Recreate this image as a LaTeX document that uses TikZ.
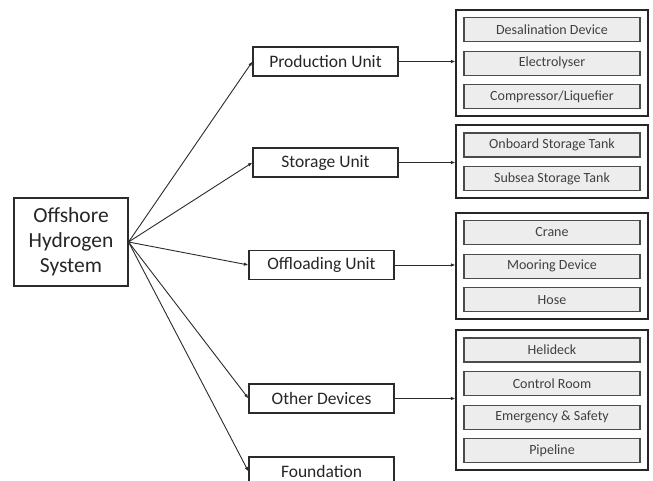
\documentclass[tikz,border=0pt]{standalone}
\usepackage{fontspec}
\setmainfont{Carlito}
\usepackage{tikz}
\usetikzlibrary{arrows.meta,positioning,fit}
\definecolor{ohLine}{HTML}{2B2B2B}
\definecolor{ohText}{HTML}{262626}
\definecolor{ohItem}{HTML}{404040}
\definecolor{ohFill}{HTML}{EDEDED}

\begin{document}
\begin{tikzpicture}[
  x=1pt, y=-1pt,
  node distance=8.5pt and 8.5pt,
  sysbox/.style={
    draw=ohLine,
    line width=1.1pt,
    fill=white,
    minimum width=114pt,
    minimum height=88pt,
    text=ohText,
    font=\fontsize{21.5}{25}\selectfont,
    align=center
  },
  unit/.style={
    draw=ohLine,
    line width=1.1pt,
    fill=white,
    minimum width=145pt,
    minimum height=29pt,
    text=ohText,
    font=\fontsize{17.5}{20}\selectfont
  },
  item/.style={
    draw=ohLine!85,
    line width=1.1pt,
    fill=ohFill,
    minimum width=176pt,
    minimum height=24pt,
    inner sep=0pt,
    text=ohItem,
    font=\fontsize{14}{16}\selectfont
  },
  group/.style={
    draw=black!85,
    line width=2pt,
    inner sep=7pt
  },
  arrow/.style={-{Latex[length=4.5pt,width=3.5pt]},line width=0.9pt,ohLine}
]
  \useasboundingbox (0,0) rectangle (653,481);

  \node[sysbox] (sys) at (71,242) {Offshore\\Hydrogen\\System};

  \node[unit] (prod) at (325.5,61.5) {Production Unit};
  \node[unit] (stor) at (325.5,162.5) {Storage Unit};
  \node[unit] (offl) at (321.5,265) {Offloading Unit};
  \node[unit] (othr) at (321.5,398.5) {Other Devices};
  \node[unit] (fond) at (321.5,471.5) {Foundation};

  % production unit parts
  \node[item] (desal) at (552,29.5) {Desalination Device};
  \node[item,below=of desal] (elec) {Electrolyser};
  \node[item,below=of elec] (comp) {Compressor/Liquefier};
  \node[group,fit=(desal)(comp)] (gprod) {};

  % storage unit parts
  \node[item] (onbd) at (552,145) {Onboard Storage Tank};
  \node[item,below=of onbd] (subs) {Subsea Storage Tank};
  \node[group,fit=(onbd)(subs)] (gstor) {};

  % offloading unit parts
  \node[item] (crane) at (552,232.5) {Crane};
  \node[item,below=of crane] (moor) {Mooring Device};
  \node[item,below=of moor] (hose) {Hose};
  \node[group,fit=(crane)(hose)] (gofl) {};

  % other devices
  \node[item] (heli) at (552,350) {Helideck};
  \node[item,below=of heli] (ctrl) {Control Room};
  \node[item,below=of ctrl] (emer) {Emergency \& Safety};
  \node[item,below=of emer] (pipe) {Pipeline};
  \node[group,fit=(heli)(pipe)] (gothr) {};

  \foreach \u in {prod,stor,offl,othr,fond}
    \draw[arrow] (sys.east)--(\u.west);

  \draw[arrow] (prod.east)--(prod.east-|gprod.west);
  \draw[arrow] (stor.east)--(stor.east-|gstor.west);
  \draw[arrow] (offl.east)--(offl.east-|gofl.west);
  \draw[arrow] (othr.east)--(othr.east-|gothr.west);
\end{tikzpicture}
\end{document}
